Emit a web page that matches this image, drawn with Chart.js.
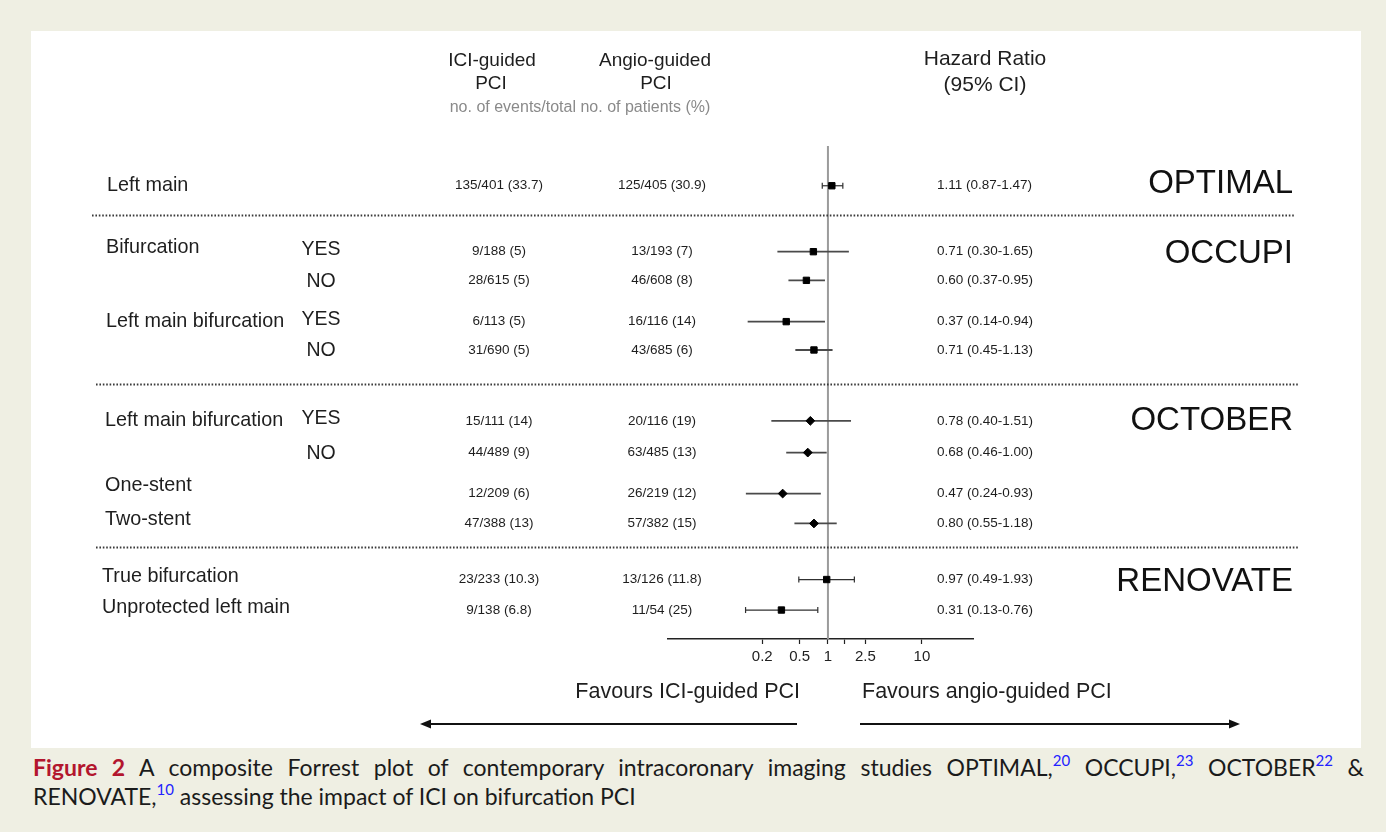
<!DOCTYPE html>
<html>
<head>
<meta charset="utf-8">
<title>Composite Forrest plot - ICI on bifurcation PCI</title>
<script src="https://cdn.jsdelivr.net/npm/chart.js@4.4.1/dist/chart.umd.min.js"></script>
<style>
  html, body { margin: 0; padding: 0; }
  body { width: 1386px; height: 832px; background: #efefe3; position: relative; overflow: hidden; }
  #panel { position: absolute; left: 31px; top: 31px; width: 1330px; height: 717px; background: #fff; }
  #forest { display: block; }
  .caption { position: absolute; left: 33px; width: 1331px; font-family: Lato, "Noto Sans", sans-serif;
             font-size: 23px; line-height: 29px; height: 29px; color: #1b1b1b; white-space: nowrap; }
  .caption.l1 { top: 753px; text-align: justify; text-align-last: justify; white-space: normal; }
  .caption.l2 { top: 782px; }
  .caption b { color: #b3162e; font-weight: 700; }
  .caption sup { font-size: 15px; color: #2222ff; vertical-align: 0; position: relative; top: -10px; }
</style>
</head>
<body>
<div id="panel"><canvas id="forest" width="1330" height="717"></canvas></div>
<div class="caption l1"><b>Figure 2</b> A composite Forrest plot of contemporary intracoronary imaging studies OPTIMAL,<sup>20</sup> OCCUPI,<sup>23</sup> OCTOBER<sup>22</sup> &amp;</div>
<div class="caption l2">RENOVATE,<sup>10</sup> assessing the impact of ICI on bifurcation PCI</div>

<script>
// Forest plot - ICI-guided vs angio-guided PCI, bifurcation subgroups

const ROW_LABELS = ['Left main', 'Bifurcation', '', 'Left main bifurcation', '', 'Left main bifurcation', '',
    'One-stent', 'Two-stent', 'True bifurcation', 'Unprotected left main'];
const ROW_SUBGROUPS = ['', 'YES', 'NO', 'YES', 'NO', 'YES', 'NO', '', '', '', ''];
const ROW_STUDY = ['OPTIMAL', 'OCCUPI', 'OCCUPI', 'OCCUPI', 'OCCUPI', 'OCTOBER', 'OCTOBER', 'OCTOBER', 'OCTOBER',
    'RENOVATE', 'RENOVATE'];

const ICI_EVENTS = ['135/401 (33.7)', '9/188 (5)', '28/615 (5)', '6/113 (5)', '31/690 (5)', '15/111 (14)',
    '44/489 (9)', '12/209 (6)', '47/388 (13)', '23/233 (10.3)', '9/138 (6.8)'];
const ANGIO_EVENTS = ['125/405 (30.9)', '13/193 (7)', '46/608 (8)', '16/116 (14)', '43/685 (6)', '20/116 (19)',
    '63/485 (13)', '26/219 (12)', '57/382 (15)', '13/126 (11.8)', '11/54 (25)'];
const HR_LABELS = ['1.11 (0.87-1.47)', '0.71 (0.30-1.65)', '0.60 (0.37-0.95)', '0.37 (0.14-0.94)',
    '0.71 (0.45-1.13)', '0.78 (0.40-1.51)', '0.68 (0.46-1.00)', '0.47 (0.24-0.93)', '0.80 (0.55-1.18)',
    '0.97 (0.49-1.93)', '0.31 (0.13-0.76)'];

// marker + whisker values as drawn in the figure (OCTOBER rows were pasted in on their own scale)
const HR_POINT = [1.10, 0.70, 0.59, 0.36, 0.71, 0.65, 0.61, 0.33, 0.71, 0.97, 0.32];
const CI_LOW = [0.87, 0.29, 0.38, 0.14, 0.45, 0.25, 0.36, 0.134, 0.44, 0.49, 0.133];
const CI_HIGH = [1.44, 1.67, 0.93, 0.93, 1.12, 1.76, 0.97, 0.84, 1.24, 1.91, 0.78];

const STUDIES = ['OPTIMAL', 'OCCUPI', 'OCTOBER', 'RENOVATE'];
const X_TICKS = [0.2, 0.5, 1, 1.5, 2.5, 10];
const X_TICK_LABELS = ['0.2', '0.5', '1', '', '2.5', '10'];

// layout only: row slots on the y scale (0 = top of plot, 16 = axis line)
const ROW_POS = [1.29, 3.43, 4.36, 5.70, 6.62, 8.92, 9.95, 11.28, 12.25, 14.07, 15.06];
const STUDY_POS = [1.23, 3.50, 8.91, 14.15];
const SEPARATOR_POS = [2.23, 7.71, 13.02];
const LABEL_NUDGE = [0, -4, 1, 0, 2, 0, 1, -8, -4, -3, -2];

const STUDY_STYLE = {
    OPTIMAL:  { marker: 'rect',    radius: 4.5, caps: true,  labelX: 76 },
    OCCUPI:   { marker: 'rect',    radius: 4.5, caps: false, labelX: 75 },
    OCTOBER:  { marker: 'rectRot', radius: 4.4, caps: false, labelX: 74 },
    RENOVATE: { marker: 'rect',    radius: 4.5, caps: true,  labelX: 71 }
};

const FONT = '"Liberation Sans", Arial, sans-serif';
const INK = '#1e1e1e';

Chart.defaults.font.family = FONT;

// whiskers, one dataset per row
const whiskerSets = ROW_LABELS.map((_, i) => {
    const st = STUDY_STYLE[ROW_STUDY[i]];
    return {
        type: 'scatter',
        showLine: true,
        order: 5,
        data: [{ x: CI_LOW[i], y: ROW_POS[i] }, { x: CI_HIGH[i], y: ROW_POS[i] }],
        borderColor: st.caps ? '#303030' : '#4a4a4a',
        borderWidth: st.caps ? 1.2 : 1.8,
        pointStyle: 'line',
        pointRotation: 90,
        pointRadius: st.caps ? 3 : 0,
        pointBorderColor: '#303030',
        pointBorderWidth: 1.2
    };
});

// point estimates, one dataset per study
const markerSets = STUDIES.map(study => {
    const st = STUDY_STYLE[study];
    const pts = [];
    ROW_STUDY.forEach((s, i) => {
        if (s === study) pts.push({ x: HR_POINT[i], y: ROW_POS[i] });
    });
    return {
        type: 'scatter',
        order: 1,
        data: pts,
        pointStyle: st.marker,
        pointRadius: st.radius,
        pointBackgroundColor: '#000',
        pointBorderColor: '#000',
        pointBorderWidth: 1
    };
});

const refLine = {
    type: 'scatter',
    showLine: true,
    order: 10,
    data: [{ x: 1, y: 0 }, { x: 1, y: 16 }],
    borderColor: '#9b9b9b',
    borderWidth: 2,
    pointRadius: 0
};

// table text, separators, arrows
const tablePlugin = {
    id: 'forestTable',
    afterDraw(chart) {
        const { ctx } = chart;
        const yScale = chart.scales.y;

        function text(str, x, y, size, align, color) {
            ctx.font = size + 'px ' + FONT;
            ctx.textAlign = align;
            ctx.textBaseline = 'middle';
            ctx.fillStyle = color || INK;
            ctx.fillText(str, x, y);
        }

        ctx.save();

        // column headers
        text('ICI-guided', 461, 30, 19, 'center');
        text('PCI', 460, 53, 19, 'center');
        text('Angio-guided', 624, 30, 19, 'center');
        text('PCI', 625, 53, 19, 'center');
        text('no. of events/total no. of patients (%)', 549, 77, 16, 'center', '#8a8a8a');
        text('Hazard Ratio', 954, 28, 21, 'center');
        text('(95% CI)', 954, 54, 21, 'center');

        // rows
        ROW_LABELS.forEach((label, i) => {
            const y = yScale.getPixelForValue(ROW_POS[i]);
            const st = STUDY_STYLE[ROW_STUDY[i]];
            if (label) text(label, st.labelX, y + LABEL_NUDGE[i], 19.8, 'left');
            if (ROW_SUBGROUPS[i]) text(ROW_SUBGROUPS[i], 290, y + (ROW_SUBGROUPS[i] === 'NO' ? 1 : -2), 19.5, 'center');
            text(ICI_EVENTS[i], 468, y, 13.5, 'center');
            text(ANGIO_EVENTS[i], 631, y, 13.5, 'center');
            text(HR_LABELS[i], 906, y, 13.5, 'left');
        });

        // study names
        STUDIES.forEach((s, i) => {
            text(s, 1262, yScale.getPixelForValue(STUDY_POS[i]), 33, 'right', '#111');
        });

        // dotted separators
        ctx.strokeStyle = '#3a3a3a';
        ctx.lineWidth = 1.8;
        ctx.setLineDash([1.6, 1.8]);
        SEPARATOR_POS.forEach((p, i) => {
            const y = Math.round(yScale.getPixelForValue(p)) + 0.5;
            const x0 = i === 0 ? 61 : 65;
            ctx.beginPath();
            ctx.moveTo(x0, y);
            ctx.lineTo(x0 + 1203, y);
            ctx.stroke();
        });
        ctx.setLineDash([]);

        // favours labels + arrows
        text('Favours ICI-guided PCI', 769, 661, 21.5, 'right');
        text('Favours angio-guided PCI', 831, 661, 21.5, 'left');

        function arrow(from, to, y) {
            const dir = Math.sign(to - from);
            ctx.strokeStyle = '#111';
            ctx.fillStyle = '#111';
            ctx.lineWidth = 2;
            ctx.beginPath();
            ctx.moveTo(from, y);
            ctx.lineTo(to - dir * 8, y);
            ctx.stroke();
            ctx.beginPath();
            ctx.moveTo(to, y);
            ctx.lineTo(to - dir * 11, y - 4.5);
            ctx.lineTo(to - dir * 11, y + 4.5);
            ctx.closePath();
            ctx.fill();
        }
        arrow(766, 389, 693);
        arrow(829, 1209, 693);

        ctx.restore();
    }
};

new Chart(document.getElementById('forest'), {
    type: 'scatter',
    data: { datasets: [refLine, ...whiskerSets, ...markerSets] },
    options: {
        responsive: false,
        animation: false,
        events: [],
        layout: { padding: { left: 637, right: 388, top: 115, bottom: 69 } },
        plugins: { legend: { display: false }, tooltip: { enabled: false } },
        scales: {
            x: {
                type: 'logarithmic',
                min: 0.0199,
                max: 34.9,
                bounds: 'data',
                afterBuildTicks: scale => { scale.ticks = X_TICKS.map(v => ({ value: v })); },
                afterFit: scale => { scale.height = 40; },
                grid: { drawOnChartArea: false, drawTicks: true, tickLength: 5, tickColor: '#222', tickWidth: 1.2 },
                border: { display: true, color: '#222', width: 1.6 },
                ticks: {
                    autoSkip: false,
                    maxRotation: 0,
                    padding: 4,
                    color: '#222',
                    font: { size: 15 },
                    callback: (value, index) => X_TICK_LABELS[index]
                }
            },
            y: {
                type: 'linear',
                min: 0,
                max: 16,
                reverse: true,
                display: false
            }
        }
    },
    plugins: [tablePlugin]
});
</script>
</body>
</html>
